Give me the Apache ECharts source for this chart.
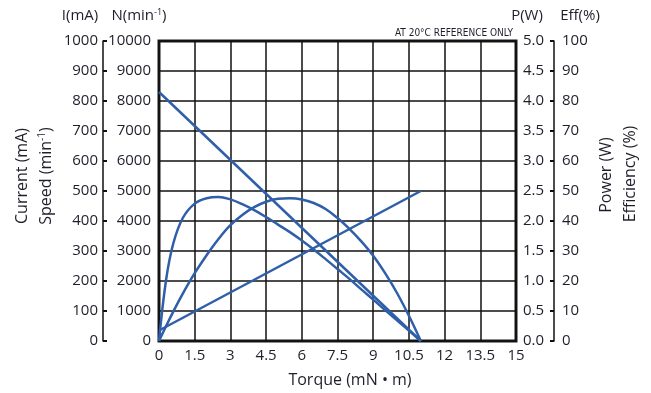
<!DOCTYPE html>
<html><head><meta charset="utf-8">
<script src="https://cdn.jsdelivr.net/npm/echarts@6/dist/echarts.min.js"></script>
<style>html,body{margin:0;padding:0;background:#fff}#c{width:651px;height:393px}</style>
</head><body><div id="c"></div>
<script>
// ---- data ----
const xTicks = [0, 1.5, 3, 4.5, 6, 7.5, 9, 10.5, 12, 13.5, 15];
const lineTorque = [0, 11];
const speedRpm = [8300, 0];
const currentMA = [35, 500];
const curveTorque = [0,0.3,0.6,1,1.5,2,2.5,3,3.5,4,4.5,5,5.5,6,6.5,7,7.5,8,8.5,9,9.5,10,10.5,11];
const powerW = [0,0.25,0.49,0.79,1.13,1.43,1.70,1.93,2.10,2.23,2.32,2.37,2.38,2.36,2.30,2.20,2.05,1.87,1.66,1.42,1.13,0.80,0.42,0];
const effPct = [0,20.5,32.5,41,45.8,47.6,48,47.2,45.6,43.6,41.3,38.8,36.3,33.5,30.5,27.3,24,20.7,17.2,13.8,10.3,6.9,3.5,0];

const FONT = '"Open Sans", "DejaVu Sans", sans-serif';
const TXT = '#1f1f2b';
const BLUE = '#2f5fa8';
const pairs = (xs, ys) => xs.map((x, i) => [x, ys[i]]);

const chart = echarts.init(document.getElementById('c'), null, {renderer: 'canvas'});
const lbl = {color: TXT, fontFamily: FONT, fontSize: 15};
const supRich = {s: {fontSize: 9, fontFamily: FONT, fill: TXT, verticalAlign: 'top', padding: [0, 0, 7, 0]}};
function t(x, y, text, size, rot, extra) {
  return Object.assign({type: 'text', x: x, y: y, rotation: rot || 0,
    style: {text: text, fontSize: size, fontFamily: FONT, fill: TXT, align: 'center', verticalAlign: 'middle', rich: {
      s: {fontSize: Math.round(size * 0.6), fontFamily: FONT, fill: TXT, padding: [0, 0, Math.round(size * 0.45), 0]}}}}, extra || {});
}
chart.setOption({
  animation: false,
  grid: {left: 159, right: 135, top: 41, bottom: 52, show: true, borderColor: '#1a1a1a', borderWidth: 3, backgroundColor: 'transparent'},
  xAxis: {
    type: 'value', min: 0, max: 15, interval: 1.5,
    axisLine: {show: false}, axisTick: {show: false},
    axisLabel: Object.assign({margin: 7, formatter: v => String(+v.toFixed(1))}, lbl),
    splitLine: {show: true, lineStyle: {color: '#111', width: 1.5}}
  },
  yAxis: [
    {type: 'value', position: 'left', min: 0, max: 10000, interval: 1000,
     axisLine: {show: false}, axisTick: {show: false},
     axisLabel: Object.assign({margin: 8, formatter: v => String(v)}, lbl),
     splitLine: {show: true, lineStyle: {color: '#111', width: 1.5}}},
    {type: 'value', position: 'left', offset: 56, min: 0, max: 1000, interval: 100,
     axisLine: {show: true, lineStyle: {color: '#111', width: 1.5}},
     axisTick: {show: true, inside: true, length: 4, lineStyle: {color: '#111', width: 2}},
     axisLabel: Object.assign({margin: 5, formatter: v => String(v)}, lbl), splitLine: {show: false}},
    {type: 'value', position: 'right', offset: 0, min: 0, max: 5, interval: 0.5,
     axisLine: {show: false}, axisTick: {show: false},
     axisLabel: Object.assign({margin: 7, formatter: v => v.toFixed(1)}, lbl), splitLine: {show: false}},
    {type: 'value', position: 'right', offset: 38, min: 0, max: 100, interval: 10,
     axisLine: {show: true, lineStyle: {color: '#111', width: 1.5}},
     axisTick: {show: true, inside: true, length: 4, lineStyle: {color: '#111', width: 2}},
     axisLabel: Object.assign({margin: 8, formatter: v => String(v)}, lbl), splitLine: {show: false}}
  ],
  series: [
    {name: 'Speed', type: 'line', yAxisIndex: 0, data: pairs(lineTorque, speedRpm), showSymbol: false, lineStyle: {color: BLUE, width: 2.5}},
    {name: 'Current', type: 'line', yAxisIndex: 1, data: pairs(lineTorque, currentMA), showSymbol: false, lineStyle: {color: BLUE, width: 2.5}},
    {name: 'Power', type: 'line', yAxisIndex: 2, smooth: 0.4, data: pairs(curveTorque, powerW), showSymbol: false, lineStyle: {color: BLUE, width: 2.5}},
    {name: 'Efficiency', type: 'line', yAxisIndex: 3, smooth: 0.4, data: pairs(curveTorque, effPct), showSymbol: false, lineStyle: {color: BLUE, width: 2.5}}
  ],
  graphic: [
    t(80, 16, 'I(mA)', 15),
    t(139, 16, 'N(min{s|-1})', 15),
    t(527, 16, 'P(W)', 15),
    t(580, 16, 'Eff(%)', 15),
    {type: 'text', x: 513, y: 33, style: {text: 'AT 20°C REFERENCE ONLY', fontSize: 10, fontFamily: '"DejaVu Sans Condensed", "Liberation Sans Narrow", sans-serif', fill: TXT, align: 'right', verticalAlign: 'middle'}},
    t(22, 176, 'Current (mA)', 16, Math.PI / 2),
    t(46, 176, 'Speed (min{s|-1})', 16, Math.PI / 2),
    t(606, 175, 'Power (W)', 16, Math.PI / 2),
    t(630, 174, 'Efficiency (%)', 16, Math.PI / 2),
    t(350, 380, 'Torque (mN • m)', 16)
  ]
});
</script></body></html>
